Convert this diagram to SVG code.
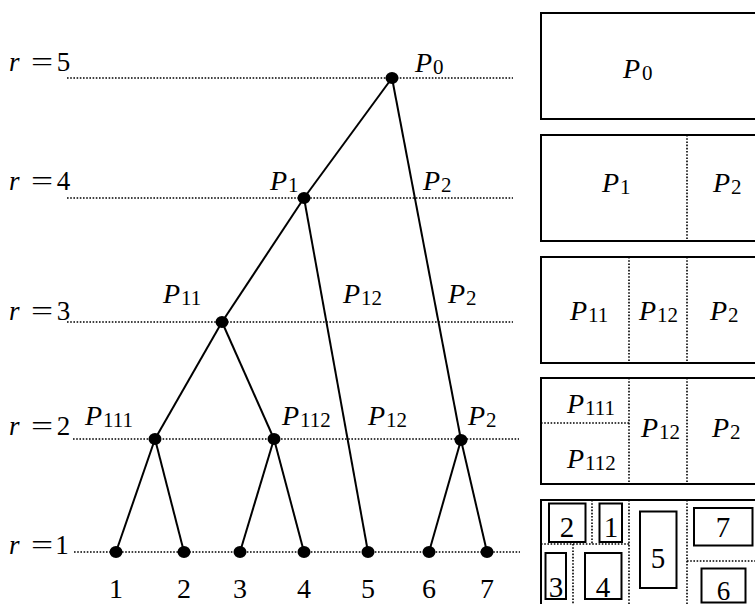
<svg xmlns="http://www.w3.org/2000/svg" width="755" height="604" viewBox="0 0 755 604" font-family="'Liberation Serif', 'Times New Roman', serif">
<style>
text{font-family:'Liberation Serif','Times New Roman',serif;fill:#000}
.lv{stroke:#000;stroke-width:1.6;stroke-dasharray:1.6 1.6;fill:none}
.dv{stroke:#000;stroke-width:1.6;stroke-dasharray:1.6 1.6;fill:none}
.e{stroke:#000;stroke-width:2;fill:none}
.n{fill:#000}
.box{fill:#fff;stroke:#000;stroke-width:2}
.sb{fill:#fff;stroke:#000;stroke-width:2}
.ri{font-size:27px;font-style:italic}
.eq{font-size:27px}
.dg{font-size:27px;text-anchor:middle}
.P{font-size:28px;font-style:italic}
.s{font-size:21px;font-style:normal}
.num{font-size:28px;text-anchor:middle}
.bn{font-size:29px;text-anchor:middle}
</style>
<rect width="755" height="604" fill="#fff"/>
<g id="levels">
<line class="lv" x1="67" y1="78" x2="513" y2="78"/>
<line class="lv" x1="67" y1="198" x2="513" y2="198"/>
<line class="lv" x1="67" y1="322" x2="513" y2="322"/>
<line class="lv" x1="73" y1="439" x2="519" y2="439"/>
<line class="lv" x1="74" y1="552" x2="520" y2="552"/>
<text class="ri" x="9" y="71">r</text><text class="eq" transform="translate(31 71) scale(1.45 1)">=</text><text class="dg" x="63.5" y="71">5</text>
<text class="ri" x="9" y="190">r</text><text class="eq" transform="translate(31 190) scale(1.45 1)">=</text><text class="dg" x="63.5" y="190">4</text>
<text class="ri" x="9" y="320">r</text><text class="eq" transform="translate(31 320) scale(1.45 1)">=</text><text class="dg" x="63.5" y="320">3</text>
<text class="ri" x="9" y="435">r</text><text class="eq" transform="translate(31 435) scale(1.45 1)">=</text><text class="dg" x="63.5" y="435">2</text>
<text class="ri" x="9" y="554">r</text><text class="eq" transform="translate(31 554) scale(1.45 1)">=</text><text class="dg" x="62" y="554">1</text>
</g>
<g id="connectors">
<line class="e" x1="392" y1="78" x2="304" y2="198"/>
<line class="e" x1="392" y1="78" x2="461" y2="440"/>
<line class="e" x1="304" y1="198" x2="222" y2="322"/>
<line class="e" x1="304" y1="198" x2="368" y2="552"/>
<line class="e" x1="222" y1="322" x2="155" y2="439"/>
<line class="e" x1="222" y1="322" x2="274" y2="439"/>
<line class="e" x1="155" y1="439" x2="116" y2="552"/>
<line class="e" x1="155" y1="439" x2="184" y2="552"/>
<line class="e" x1="274" y1="439" x2="240" y2="552"/>
<line class="e" x1="274" y1="439" x2="304" y2="552"/>
<line class="e" x1="461" y1="440" x2="429" y2="552"/>
<line class="e" x1="461" y1="440" x2="487" y2="552"/>
</g>
<g id="nP0"><ellipse class="n" cx="392" cy="78" rx="6.5" ry="6"/><text class="P" x="415" y="72">P<tspan class="s" dx="1" dy="2">0</tspan></text></g>
<g id="nP1"><ellipse class="n" cx="304" cy="198" rx="6.5" ry="6"/><text class="P" x="270" y="190">P<tspan class="s" dx="1" dy="2">1</tspan></text></g>
<g id="lP2a"><text class="P" x="423" y="190">P<tspan class="s" dx="1" dy="2">2</tspan></text></g>
<g id="nP11"><ellipse class="n" cx="222" cy="322" rx="6.5" ry="6"/><text class="P" x="163" y="303">P<tspan class="s" dx="1" dy="2">11</tspan></text></g>
<g id="lP12a"><text class="P" x="343" y="303">P<tspan class="s" dx="1" dy="2">12</tspan></text></g>
<g id="lP2b"><text class="P" x="448" y="303">P<tspan class="s" dx="1" dy="2">2</tspan></text></g>
<g id="nP111"><ellipse class="n" cx="155" cy="439" rx="6.5" ry="6"/><text class="P" x="85" y="425">P<tspan class="s" dx="1" dy="2">111</tspan></text></g>
<g id="nP112"><ellipse class="n" cx="274" cy="439" rx="6.5" ry="6"/><text class="P" x="282" y="425">P<tspan class="s" dx="1" dy="2">112</tspan></text></g>
<g id="lP12b"><text class="P" x="368" y="425">P<tspan class="s" dx="1" dy="2">12</tspan></text></g>
<g id="nP2"><ellipse class="n" cx="461" cy="440" rx="6.5" ry="6"/><text class="P" x="468" y="425">P<tspan class="s" dx="1" dy="2">2</tspan></text></g>
<g id="leaf1"><ellipse class="n" cx="116" cy="552" rx="6.5" ry="6"/><text class="num" x="116" y="598">1</text></g>
<g id="leaf2"><ellipse class="n" cx="184" cy="552" rx="6.5" ry="6"/><text class="num" x="184" y="598">2</text></g>
<g id="leaf3"><ellipse class="n" cx="240" cy="552" rx="6.5" ry="6"/><text class="num" x="240" y="598">3</text></g>
<g id="leaf4"><ellipse class="n" cx="304" cy="552" rx="6.5" ry="6"/><text class="num" x="304" y="598">4</text></g>
<g id="leaf5"><ellipse class="n" cx="368" cy="552" rx="6.5" ry="6"/><text class="num" x="368" y="598">5</text></g>
<g id="leaf6"><ellipse class="n" cx="429" cy="552" rx="6.5" ry="6"/><text class="num" x="429" y="598">6</text></g>
<g id="leaf7"><ellipse class="n" cx="487" cy="552" rx="6.5" ry="6"/><text class="num" x="487" y="598">7</text></g>
<g id="box5">
<rect class="box" x="541" y="13" width="230" height="106"/>
<text class="P" x="623" y="78">P<tspan class="s" dx="2" dy="2">0</tspan></text>
</g>
<g id="box4">
<rect class="box" x="541" y="135" width="230" height="106"/>
<line class="dv" x1="687" y1="135" x2="687" y2="241"/>
<text class="P" x="602" y="192">P<tspan class="s" dx="1" dy="2">1</tspan></text>
<text class="P" x="713" y="192">P<tspan class="s" dx="1" dy="2">2</tspan></text>
</g>
<g id="box3">
<rect class="box" x="541" y="257" width="230" height="106"/>
<line class="dv" x1="629" y1="257" x2="629" y2="363"/>
<line class="dv" x1="687" y1="257" x2="687" y2="363"/>
<text class="P" x="570" y="320">P<tspan class="s" dx="1" dy="2">11</tspan></text>
<text class="P" x="639" y="320">P<tspan class="s" dx="1" dy="2">12</tspan></text>
<text class="P" x="710" y="320">P<tspan class="s" dx="1" dy="2">2</tspan></text>
</g>
<g id="box2">
<rect class="box" x="541" y="378" width="230" height="106"/>
<line class="dv" x1="629" y1="378" x2="629" y2="484"/>
<line class="dv" x1="687" y1="378" x2="687" y2="484"/>
<line class="dv" x1="541" y1="423" x2="629" y2="423"/>
<text class="P" x="567" y="413">P<tspan class="s" dx="1" dy="2">111</tspan></text>
<text class="P" x="567" y="468">P<tspan class="s" dx="1" dy="2">112</tspan></text>
<text class="P" x="641" y="437">P<tspan class="s" dx="1" dy="2">12</tspan></text>
<text class="P" x="712" y="437">P<tspan class="s" dx="1" dy="2">2</tspan></text>
</g>
<g id="box1">
<rect class="box" x="541" y="500" width="230" height="110"/>
<line class="dv" x1="592" y1="500" x2="592" y2="544"/>
<line class="dv" x1="541" y1="544" x2="629" y2="544"/>
<line class="dv" x1="573" y1="544" x2="573" y2="610"/>
<line class="dv" x1="629" y1="500" x2="629" y2="610"/>
<line class="dv" x1="687" y1="500" x2="687" y2="610"/>
<line class="dv" x1="687" y1="561" x2="771" y2="561"/>
<rect class="sb" x="549" y="503.5" width="36.5" height="38.5"/>
<text class="bn" x="567" y="537">2</text>
<rect class="sb" x="599.5" y="503.5" width="22.5" height="38.5"/>
<text class="bn" x="611" y="537">1</text>
<rect class="sb" x="545.5" y="553" width="20.5" height="46"/>
<text class="bn" x="556" y="597">3</text>
<rect class="sb" x="585" y="553" width="36.5" height="46"/>
<text class="bn" x="603" y="597">4</text>
<rect class="sb" x="640" y="511.5" width="36.5" height="76.5"/>
<text class="bn" x="658" y="568">5</text>
<rect class="sb" x="694" y="508" width="58.5" height="37.5"/>
<text class="bn" x="723" y="537">7</text>
<rect class="sb" x="701.5" y="568.5" width="44" height="34"/>
<text class="bn" x="723.5" y="600" style="font-size:27px">6</text>
</g>
</svg>
